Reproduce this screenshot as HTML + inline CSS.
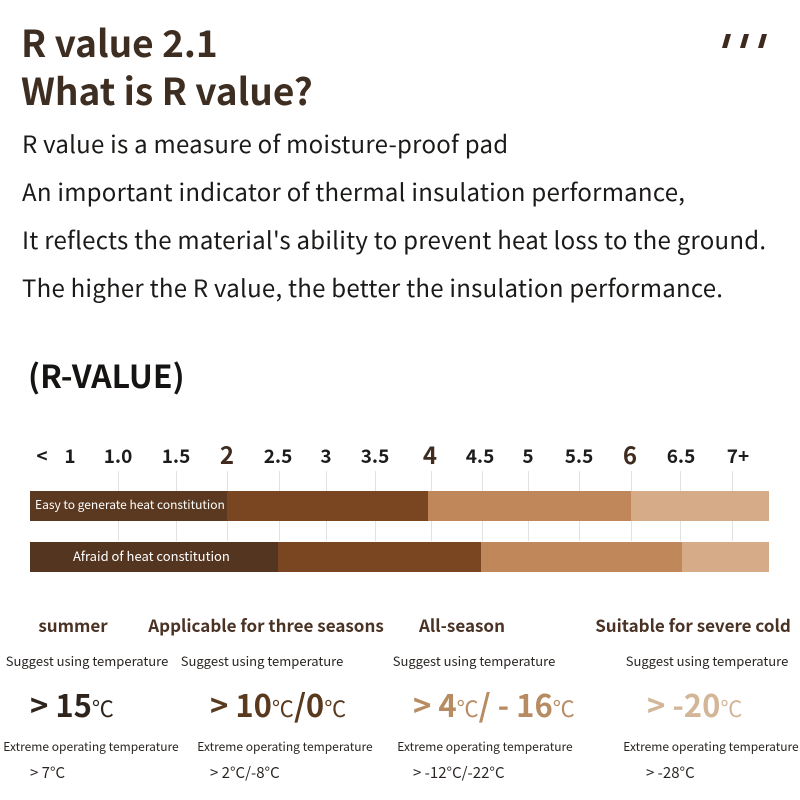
<!DOCTYPE html>
<html>
<head>
<meta charset="utf-8">
<style>
  html,body{margin:0;padding:0;background:#fff;}
  body{width:800px;height:800px;position:relative;overflow:hidden;
    font-family:"Noto Sans CJK SC","Liberation Sans",sans-serif;color:#1e1a17;}
  .a{position:absolute;white-space:nowrap;line-height:1;}
  .c{transform:translateX(-50%);}
  .title{font-weight:bold;font-size:37px;color:#3e2e22;left:21px;}
  .body{position:absolute;left:22px;top:119px;font-size:24px;letter-spacing:0.25px;line-height:48px;color:#1c1a18;white-space:nowrap;}
  .tick{font-size:19px;font-weight:600;color:#1c1c1c;top:446px;}
  .big{font-size:24px;font-weight:bold;color:#3f2c1e;top:442px;}
  .grid{position:absolute;width:1px;background:#e2e2e2;top:471px;height:70px;}
  .bar{position:absolute;}
  .hd{font-size:17px;font-weight:bold;color:#4a3324;top:616px;}
  .sg{font-size:13px;color:#2a2522;top:654px;}
  .val{font-size:31px;font-weight:bold;top:688px;}
  .val small{font-size:22px;font-weight:normal;}
  .ex{font-size:12px;color:#2a2522;top:741px;}
  .lv{font-size:15px;color:#2a2522;top:765px;}
  .sl{position:absolute;width:5px;height:14px;background:#3d2a1e;transform:skewX(-16deg);top:34px;}
</style>
</head>
<body>
  <div class="a title" style="top:23px;">R value 2.1</div>
  <div class="a title" style="top:71px;">What is R value?</div>
  <div class="sl" style="left:724px;"></div>
  <div class="sl" style="left:742px;"></div>
  <div class="sl" style="left:760px;"></div>

  <div class="body">R value is a measure of moisture-proof pad<br>An important indicator of thermal insulation performance,<br>It reflects the material's ability to prevent heat loss to the ground.<br>The higher the R value, the better the insulation performance.</div>

  <div class="a" style="left:28px;top:359px;font-size:32px;font-weight:bold;color:#161412;">(R-VALUE)</div>

  <!-- grid lines -->
  <div class="grid" style="left:118px"></div>
  <div class="grid" style="left:176px"></div>
  <div class="grid" style="left:227px"></div>
  <div class="grid" style="left:279px"></div>
  <div class="grid" style="left:326px"></div>
  <div class="grid" style="left:375px"></div>
  <div class="grid" style="left:431px"></div>
  <div class="grid" style="left:482px"></div>
  <div class="grid" style="left:528px"></div>
  <div class="grid" style="left:579px"></div>
  <div class="grid" style="left:631px"></div>
  <div class="grid" style="left:680px"></div>
  <div class="grid" style="left:732px"></div>

  <!-- tick labels -->
  <div class="a c tick" style="left:42px">&lt;</div>
  <div class="a c tick" style="left:70px">1</div>
  <div class="a c tick" style="left:118px">1.0</div>
  <div class="a c tick" style="left:176px">1.5</div>
  <div class="a c big" style="left:227px">2</div>
  <div class="a c tick" style="left:278px">2.5</div>
  <div class="a c tick" style="left:326px">3</div>
  <div class="a c tick" style="left:375px">3.5</div>
  <div class="a c big" style="left:430px">4</div>
  <div class="a c tick" style="left:480px">4.5</div>
  <div class="a c tick" style="left:528px">5</div>
  <div class="a c tick" style="left:579px">5.5</div>
  <div class="a c big" style="left:630px">6</div>
  <div class="a c tick" style="left:681px">6.5</div>
  <div class="a c tick" style="left:738px">7+</div>

  <!-- bar 1 -->
  <div class="bar" style="left:30px;top:491px;width:197px;height:30px;background:#5a3920;"></div>
  <div class="bar" style="left:227px;top:491px;width:201px;height:30px;background:#7a4622;"></div>
  <div class="bar" style="left:428px;top:491px;width:203px;height:30px;background:#c0885a;"></div>
  <div class="bar" style="left:631px;top:491px;width:138px;height:30px;background:#d6ab88;"></div>
  <div class="a" style="left:35px;top:499px;font-size:12px;color:#fff;">Easy to generate heat constitution</div>

  <!-- bar 2 -->
  <div class="bar" style="left:30px;top:542px;width:248px;height:30px;background:#533520;"></div>
  <div class="bar" style="left:278px;top:542px;width:203px;height:30px;background:#7a4622;"></div>
  <div class="bar" style="left:481px;top:542px;width:201px;height:30px;background:#c0885a;"></div>
  <div class="bar" style="left:682px;top:542px;width:87px;height:30px;background:#d6ab88;"></div>
  <div class="a" style="left:73px;top:549px;font-size:13px;color:#fff;">Afraid of heat constitution</div>

  <!-- headers -->
  <div class="a c hd" style="left:73px">summer</div>
  <div class="a c hd" style="left:266px">Applicable for three seasons</div>
  <div class="a c hd" style="left:462px">All-season</div>
  <div class="a c hd" style="left:693px">Suitable for severe cold</div>

  <div class="a c sg" style="left:87px">Suggest using temperature</div>
  <div class="a c sg" style="left:262px">Suggest using temperature</div>
  <div class="a c sg" style="left:474px">Suggest using temperature</div>
  <div class="a c sg" style="left:707px">Suggest using temperature</div>

  <div class="a val" style="left:30px;color:#2e241c;">&gt; 15<small>℃</small></div>
  <div class="a val" style="left:210px;color:#5a3a1f;">&gt; 10<small>℃</small>/0<small>℃</small></div>
  <div class="a val" style="left:413px;color:#b88c62;">&gt; 4<small>℃</small>/ - 16<small>℃</small></div>
  <div class="a val" style="left:647px;color:#d3b597;">&gt; -20<small>℃</small></div>

  <div class="a c ex" style="left:91px">Extreme operating temperature</div>
  <div class="a c ex" style="left:285px">Extreme operating temperature</div>
  <div class="a c ex" style="left:485px">Extreme operating temperature</div>
  <div class="a c ex" style="left:711px">Extreme operating temperature</div>

  <div class="a lv" style="left:30px">&gt; 7°C</div>
  <div class="a lv" style="left:210px">&gt; 2°C/-8°C</div>
  <div class="a lv" style="left:413px">&gt; -12°C/-22°C</div>
  <div class="a lv" style="left:646px">&gt; -28°C</div>
</body>
</html>
